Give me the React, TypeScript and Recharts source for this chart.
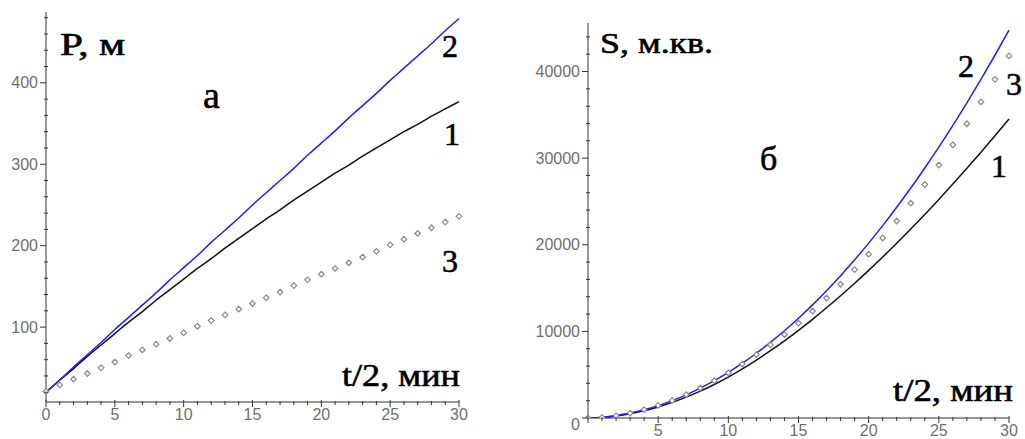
import React from "react";
import { LineChart, Line, XAxis, YAxis } from "recharts";

// t/2, мин
const T = [0, 1, 2, 3, 4, 5, 6, 7, 8, 9, 10, 11, 12, 13, 14, 15, 16, 17, 18, 19, 20, 21, 22, 23, 24, 25, 26, 27, 28, 29, 30];

// а) perimeter P, м
const P1 = [20, 35, 49, 64, 78, 92, 106, 119, 133, 146, 159, 172, 184, 197, 209, 221, 233, 244, 256, 267, 278, 289, 299, 310, 320, 330, 340, 349, 359, 368, 377];
const P2 = [20, 35, 51, 66, 81, 97, 112, 127, 142, 158, 173, 188, 204, 219, 234, 250, 265, 280, 295, 311, 326, 341, 357, 372, 387, 403, 418, 433, 448, 464, 479];
const P3 = [21, 29, 36, 43, 50, 57, 65, 72, 79, 86, 93, 101, 108, 115, 122, 129, 136, 143, 151, 158, 165, 172, 179, 186, 193, 201, 208, 215, 222, 229, 236];

// б) area S, м.кв.
const S1 = [0, 60, 220, 480, 830, 1270, 1800, 2410, 3100, 3870, 4710, 5660, 6680, 7765, 8915, 10125, 11395, 12725, 14110, 15550, 17040, 18580, 20170, 21810, 23495, 25225, 27000, 28820, 30680, 32580, 34520];
const S2 = [0, 92, 280, 565, 947, 1425, 2000, 2671, 3440, 4304, 5265, 6323, 7477, 8728, 10076, 11519, 13060, 14697, 16431, 18261, 20188, 22211, 24331, 26548, 28861, 31271, 33778, 36381, 39080, 41877, 44769];
const S3 = [0, 70, 260, 560, 960, 1450, 2030, 2700, 3460, 4300, 5220, 6230, 7320, 8440, 9640, 10950, 12350, 13850, 15440, 17130, 18910, 20780, 22740, 24800, 26950, 29200, 31540, 33970, 36490, 39100, 41800];

// ticks
const X_TICKS = T;
const LEFT_Y_TICKS = [20, 40, 60, 80, 100, 120, 140, 160, 180, 200, 220, 240, 260, 280, 300, 320, 340, 360, 380, 400, 420, 440, 460, 480];
const RIGHT_Y_TICKS = [0, 2000, 4000, 6000, 8000, 10000, 12000, 14000, 16000, 18000, 20000, 22000, 24000, 26000, 28000, 30000, 32000, 34000, 36000, 38000, 40000, 42000, 44000];

const leftData = T.map((t, i) => ({ t, p1: P1[i], p2: P2[i], p3: P3[i] }));
const rightData = T.map((t, i) => ({ t, s1: S1[i], s2: S2[i], s3: S3[i] }));

const AXIS = "#333";
const TICK_TEXT = "#6f6f6f";
const SANS = "'Liberation Sans', Arial, sans-serif";
const SERIF = "'Liberation Serif', 'Times New Roman', serif";

const XTick = (props: any) => {
  const { x, y, payload, showZero } = props;
  const v = payload.value;
  const major = v % 5 === 0;
  return (
    <g>
      <line x1={x} x2={x} y1={y - (major ? 2 : 1)} y2={y + (major ? 5 : 3)} stroke={AXIS} strokeWidth={1} />
      {major && (showZero || v !== 0) && (
        <text x={x} y={y + 12} textAnchor="middle" dominantBaseline="central" fontSize={16} fill={TICK_TEXT} fontFamily={SANS}>
          {v}
        </text>
      )}
    </g>
  );
};

const YTick = (props: any) => {
  const { x, y, payload, step } = props;
  const v = payload.value;
  const major = v % step === 0;
  return (
    <g>
      {major ? (
        <line x1={x - 6} x2={x} y1={y} y2={y} stroke={AXIS} strokeWidth={1} />
      ) : (
        <line x1={x - 2} x2={x + 2} y1={y} y2={y} stroke={AXIS} strokeWidth={1} />
      )}
      {major && (
        <text x={x - 8} y={v === 0 ? y + 6 : y} textAnchor="end" dominantBaseline="central" fontSize={16} fill={TICK_TEXT} fontFamily={SANS}>
          {v}
        </text>
      )}
    </g>
  );
};

const Diamond = (props: any) => {
  const { cx, cy, index } = props;
  if (cx == null || cy == null) return <g key={index} />;
  const r = 2.8;
  return (
    <path
      key={index}
      d={`M${cx},${cy - r}L${cx + r},${cy}L${cx},${cy + r}L${cx - r},${cy}Z`}
      fill="#fff"
      stroke="#8a8a8a"
      strokeWidth={1.2}
    />
  );
};

const Ann = ({ x, y, size, len, children }: any) => (
  <text
    x={x}
    y={y}
    fontSize={size}
    fontFamily={SERIF}
    fill="#000"
    stroke="#000"
    strokeWidth={0.6}
    textLength={len}
    lengthAdjust={len ? "spacingAndGlyphs" : undefined}
  >
    {children}
  </text>
);

export default function App() {
  return (
    <div style={{ position: "relative", width: 1025, height: 439, background: "#fff", overflow: "hidden" }}>
      <style>{`body{margin:0}`}</style>

      <div style={{ position: "absolute", left: 0, top: 0 }}>
        <LineChart width={480} height={439} data={leftData} margin={{ top: 12, right: 21, left: 0, bottom: 0 }}>
          <XAxis
            dataKey="t"
            type="number"
            domain={[0, 30]}
            ticks={X_TICKS}
            interval={0}
            height={37}
            stroke={AXIS}
            tickLine={false}
            tickSize={0}
            tickMargin={0}
            tick={(p: any) => <XTick {...p} showZero />}
          />
          <YAxis
            type="number"
            domain={[8, 487]}
            allowDataOverflow
            ticks={LEFT_Y_TICKS}
            interval={0}
            width={46}
            stroke={AXIS}
            tickLine={false}
            tickSize={0}
            tickMargin={0}
            tick={(p: any) => <YTick {...p} step={100} />}
          />
          <Line dataKey="p3" stroke="none" dot={Diamond} activeDot={false} isAnimationActive={false} />
          <Line dataKey="p1" type="monotone" stroke="#111" strokeWidth={1.5} dot={false} activeDot={false} isAnimationActive={false} />
          <Line dataKey="p2" type="monotone" stroke="#1f1fff" strokeWidth={1.5} dot={false} activeDot={false} isAnimationActive={false} />
        </LineChart>
      </div>

      <div style={{ position: "absolute", left: 520, top: 0 }}>
        <LineChart width={505} height={439} data={rightData} margin={{ top: 23, right: 16, left: 0, bottom: 0 }}>
          <XAxis
            dataKey="t"
            type="number"
            domain={[0, 30]}
            ticks={X_TICKS}
            interval={0}
            height={21}
            stroke={AXIS}
            tickLine={false}
            tickSize={0}
            tickMargin={0}
            tick={(p: any) => <XTick {...p} showZero={false} />}
          />
          <YAxis
            type="number"
            domain={[0, 45600]}
            allowDataOverflow
            ticks={RIGHT_Y_TICKS}
            interval={0}
            width={68}
            stroke={AXIS}
            tickLine={false}
            tickSize={0}
            tickMargin={0}
            tick={(p: any) => <YTick {...p} step={10000} />}
          />
          <Line dataKey="s3" stroke="none" dot={Diamond} activeDot={false} isAnimationActive={false} />
          <Line dataKey="s1" type="monotone" stroke="#111" strokeWidth={1.5} dot={false} activeDot={false} isAnimationActive={false} />
          <Line dataKey="s2" type="monotone" stroke="#1f1fff" strokeWidth={1.5} dot={false} activeDot={false} isAnimationActive={false} />
        </LineChart>
      </div>

      <svg width={1025} height={439} style={{ position: "absolute", left: 0, top: 0, pointerEvents: "none" }}>
        <Ann x={60} y={55} size={31} len={65}>P, м</Ann>
        <Ann x={203} y={108} size={38}>а</Ann>
        <Ann x={442} y={57} size={32}>2</Ann>
        <Ann x={444} y={145} size={32}>1</Ann>
        <Ann x={442} y={272} size={32}>3</Ann>
        <Ann x={342} y={386} size={32} len={118}>t/2, мин</Ann>

        <Ann x={600} y={53} size={30} len={113}>S, м.кв.</Ann>
        <Ann x={760} y={170} size={34}>б</Ann>
        <Ann x={958} y={77} size={32}>2</Ann>
        <Ann x={1006} y={95} size={32}>3</Ann>
        <Ann x={991} y={177} size={32}>1</Ann>
        <Ann x={893} y={401} size={32} len={120}>t/2, мин</Ann>
      </svg>
    </div>
  );
}
